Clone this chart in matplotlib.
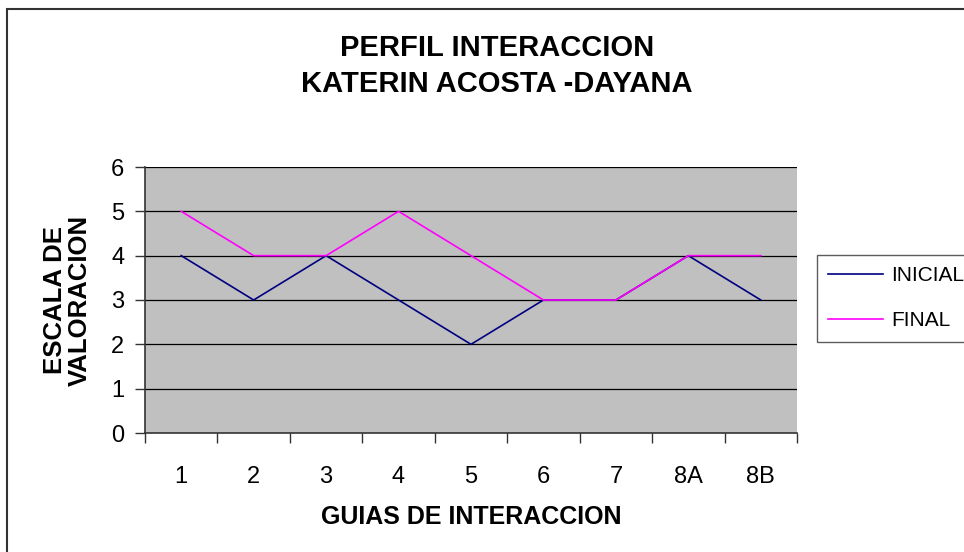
import matplotlib
matplotlib.use("Agg")
import matplotlib.pyplot as plt
from matplotlib.patches import Rectangle

# datos
guias = ["1", "2", "3", "4", "5", "6", "7", "8A", "8B"]
inicial = [4, 3, 4, 3, 2, 3, 3, 4, 3]
final = [5, 4, 4, 5, 4, 3, 3, 4, 4]

plt.rcParams["font.family"] = ["Liberation Sans", "DejaVu Sans"]

W, H = 964, 552
fig = plt.figure(figsize=(W / 100, H / 100), dpi=100)
fig.patch.set_facecolor("white")

# marco exterior
fig.patches.append(Rectangle((7 / W, -0.01), 1.0, 1 - 9 / H + 0.01, transform=fig.transFigure,
                             fill=False, edgecolor="#333333", linewidth=1.5))

ax = fig.add_axes([145 / W, (H - 433) / H, 652 / W, 266 / H])
ax.set_facecolor("#C0C0C0")

x = list(range(len(guias)))
ax.plot(x, inicial, color="#000080", linewidth=1.2, label="INICIAL")
ax.plot(x, final, color="#FF00FF", linewidth=1.2, label="FINAL")

ax.set_xlim(-0.5, len(guias) - 0.5)
ax.set_ylim(0, 6)
ax.set_yticks(range(0, 7))
for yv in range(1, 7):
    ax.axhline(yv, color="black", linewidth=0.9, zorder=0.5)

ax.set_xticks([i - 0.5 for i in range(len(guias) + 1)])
ax.set_xticklabels([])
ax.set_xticks(x, minor=True)
ax.set_xticklabels(guias, minor=True)
ax.tick_params(axis="x", which="major", direction="out", length=7, width=1, color="#333333")
ax.tick_params(axis="x", which="minor", length=0, pad=24, labelsize=17)
ax.tick_params(axis="y", direction="out", length=7, width=1, color="#333333", labelsize=17, pad=8)

for s in ["top", "right"]:
    ax.spines[s].set_visible(False)
for s in ["left", "bottom"]:
    ax.spines[s].set_color("#333333")
    ax.spines[s].set_linewidth(1.2)

ax.set_xlabel("GUIAS DE INTERACCION", fontsize=18, fontweight="bold", labelpad=12)
ax.set_ylabel("ESCALA DE\nVALORACION", fontsize=18.5, fontweight="bold", labelpad=14, linespacing=1.05)

fig.text(497 / W, 1 - 66 / H, "PERFIL INTERACCION\nKATERIN ACOSTA -DAYANA", ha="center", va="center",
         fontsize=21, fontweight="bold", linespacing=1.35)

leg = fig.legend(loc="upper left", bbox_to_anchor=(817 / W, 1 - 255 / H), fontsize=15,
                 frameon=True, fancybox=False, edgecolor="#333333", handlelength=2.6,
                 borderpad=0.55, labelspacing=1.25, handletextpad=0.4, borderaxespad=0)
leg.get_frame().set_linewidth(1.0)

fig.savefig("out.png", dpi=100)
